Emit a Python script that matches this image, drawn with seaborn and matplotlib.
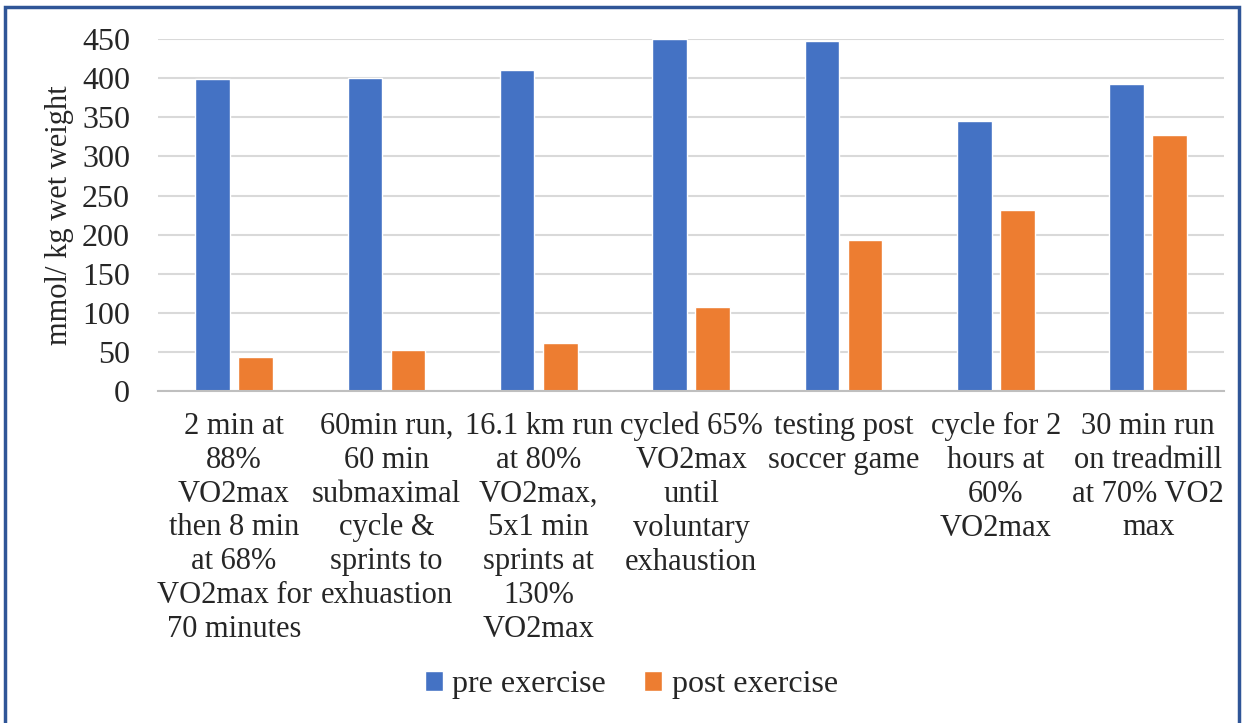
import pandas as pd
import matplotlib.pyplot as plt
import seaborn as sns
from matplotlib.patches import Rectangle

categories = [
    "2 min at\n88%\nVO2max\nthen 8 min\nat 68%\nVO2max for\n70 minutes",
    "60min run,\n60 min\nsubmaximal\ncycle &\nsprints to\nexhuastion",
    "16.1 km run\nat 80%\nVO2max,\n5x1 min\nsprints at\n130%\nVO2max",
    "cycled 65%\nVO2max\nuntil\nvoluntary\nexhaustion",
    "testing post\nsoccer game",
    "cycle for 2\nhours at\n60%\nVO2max",
    "30 min run\non treadmill\nat 70% VO2\nmax",
]
pre_exercise = [399, 400, 410, 450, 448, 345, 392]
post_exercise = [44, 53, 61, 108, 193, 231, 328]
series_names = ["pre exercise", "post exercise"]
colors = ["#4472C4", "#ED7D31"]

df = pd.DataFrame({
    "Category": categories * 2,
    "Series": [series_names[0]] * len(categories) + [series_names[1]] * len(categories),
    "Value": pre_exercise + post_exercise,
})

sns.set_style("white")
plt.rcParams["font.family"] = ["Liberation Serif", "DejaVu Serif"]

fig = plt.figure(figsize=(12.43, 7.23), dpi=100)
ax = fig.add_axes([0.127, 0.459, 0.858, 0.487])

sns.barplot(
    data=df,
    x="Category",
    y="Value",
    hue="Series",
    palette=colors,
    saturation=1,
    width=0.566,
    gap=0.2,
    ax=ax,
    legend=True,
)

ax.set_ylim(0, 450)
ax.set_xlim(-0.5, len(categories) - 0.5)
ax.set_yticks(range(0, 451, 50))
ax.yaxis.grid(True, color="#D9D9D9", linewidth=1.5)
ax.set_axisbelow(True)
for side in ["left", "right", "top"]:
    ax.spines[side].set_visible(False)
ax.spines["bottom"].set_color("#BFBFBF")
ax.spines["bottom"].set_linewidth(1.5)

# category boundary ticks, Excel style
ax.set_xticks([i - 0.5 for i in range(len(categories) + 1)], minor=True)
ax.tick_params(axis="x", which="minor", length=9, width=1.5, color="#BFBFBF", direction="out")
ax.tick_params(axis="x", which="major", length=0, pad=15, labelsize=22)
ax.tick_params(axis="y", length=0, pad=20, labelsize=23)
for lbl in ax.get_xticklabels():
    lbl.set_linespacing(1.22)
    lbl.set_verticalalignment("top")

ax.set_xlabel("")
ax.set_ylabel("mmol/ kg wet weight", fontsize=22, labelpad=6)

handles, labels = ax.get_legend_handles_labels()
ax.get_legend().remove()
fig.legend(
    handles, labels,
    loc="center", bbox_to_anchor=(0.508, 0.053),
    ncol=2, frameon=False, fontsize=23,
    handlelength=0.55, handleheight=0.55, handletextpad=0.3, columnspacing=1.2,
)

fig.patches.append(Rectangle(
    (0.004, -0.05), 0.993, 1.04, transform=fig.transFigure,
    fill=False, edgecolor="#2F5597", linewidth=2.5,
))

fig.savefig("out.png", dpi=100)
